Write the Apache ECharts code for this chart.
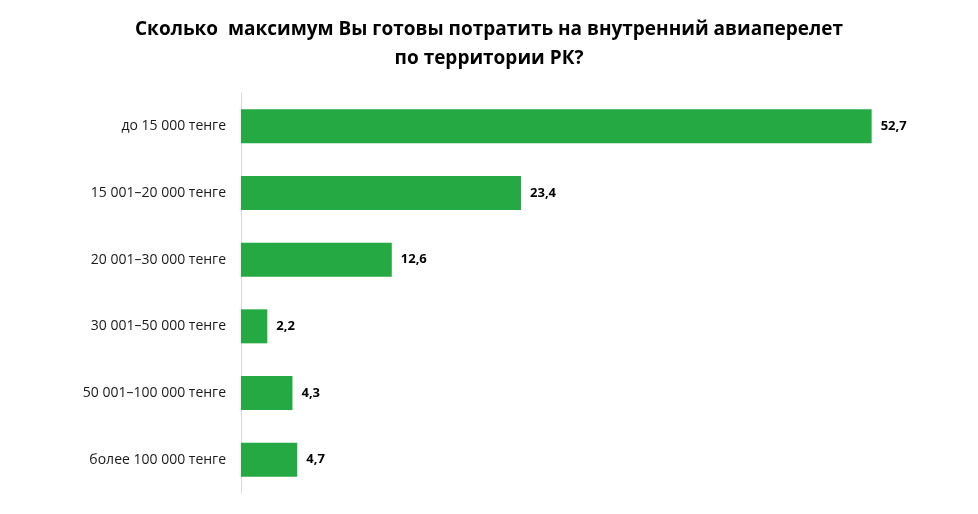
<!DOCTYPE html>
<html>
<head>
<meta charset="utf-8">
<script src="https://cdn.jsdelivr.net/npm/echarts@6/dist/echarts.min.js"></script>
<style>
  html, body { margin: 0; padding: 0; background: #fff; }
  #chart { width: 978px; height: 514px; }
</style>
</head>
<body>
<div id="chart"></div>
<script>
// categories top to bottom
var categories = [
  'до 15 000 тенге',
  '15 001–20 000 тенге',
  '20 001–30 000 тенге',
  '30 001–50 000 тенге',
  '50 001–100 000 тенге',
  'более 100 000 тенге'
]
var values = [52.7, 23.4, 12.6, 2.2, 4.3, 4.7]
var titleText = 'Сколько  максимум Вы готовы потратить на внутренний авиаперелет\nпо территории РК?'

var myChart = echarts.init(document.getElementById('chart'))

var option = {
  backgroundColor: '#fff',
  title: {
    text: titleText,
    left: 'center',
    top: 10,
    textStyle: {
      fontFamily: 'Open Sans',
      fontWeight: 'bold',
      fontSize: 19,
      lineHeight: 29,
      color: '#000'
    }
  },
  grid: {
    left: 241,
    right: 19,
    top: 93,
    bottom: 21
  },
  xAxis: {
    type: 'value',
    min: 0,
    max: 60,
    show: false
  },
  yAxis: {
    type: 'category',
    inverse: true,
    data: categories,
    axisTick: { show: false },
    axisLine: {
      lineStyle: { color: '#d9d9d9', width: 1 }
    },
    axisLabel: {
      margin: 15,
      color: '#1a1a1a',
      fontFamily: 'Open Sans',
      fontSize: 14
    }
  },
  series: [
    {
      type: 'bar',
      data: values,
      barWidth: 34,
      itemStyle: { color: '#25a942' },
      label: {
        show: true,
        position: 'right',
        distance: 9,
        color: '#000',
        fontFamily: 'Open Sans',
        fontWeight: 'bold',
        fontSize: 13,
        formatter: function (p) {
          return String(p.value).replace('.', ',')
        }
      }
    }
  ]
}

myChart.setOption(option)
</script>
</body>
</html>
